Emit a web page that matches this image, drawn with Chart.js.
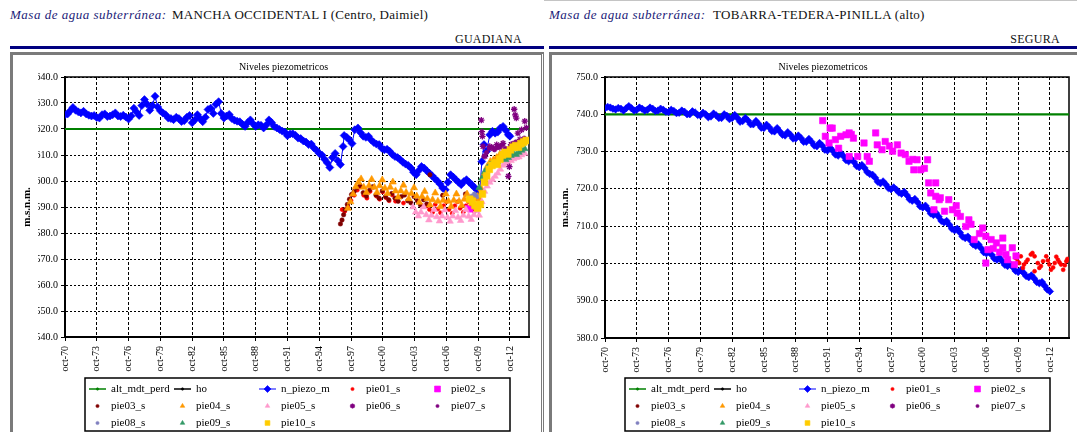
<!DOCTYPE html>
<html lang="es">
<head>
<meta charset="utf-8">
<title>Niveles piezometricos</title>
<script src="https://cdn.jsdelivr.net/npm/chart.js@4.4.1/dist/chart.umd.min.js"></script>
<style>
  html, body { margin: 0; padding: 0; background: #fff; }
  body { width: 1077px; height: 432px; overflow: hidden; position: relative;
         font-family: "Liberation Serif", "Times New Roman", serif; }
  .lbl  { position: absolute; top: 7px; font-style: italic; color: #1c1c78; font-size: 13px;
          letter-spacing: 0.5px; white-space: nowrap; }
  .name { position: absolute; top: 7px; font-size: 13px; letter-spacing: 0.3px; color: #111; white-space: nowrap; }
  .basin { position: absolute; top: 32px; width: 200px; text-align: right; font-size: 12px;
           letter-spacing: 0.3px; color: #111; white-space: nowrap; }
  .rule { position: absolute; top: 46px; height: 3px; background: #000080; }
  .panel { position: absolute; top: 52px; height: 400px; border-top: 3px solid #7a7a7a;
           border-left: 3px solid #7a7a7a; background: #fff; }
  .topline { position: absolute; top: 0; height: 1px; background: #c4c4c4; }
  canvas { position: absolute; top: 55px; }
</style>
</head>
<body>
  <div class="topline" style="left:544px; width:533px;"></div>

  <div class="lbl"  style="left:10px;">Masa de agua subterránea:</div>
  <div class="name" style="left:172px;">MANCHA OCCIDENTAL I (Centro, Daimiel)</div>
  <div class="basin" style="left:322px;">GUADIANA</div>
  <div class="rule" style="left:10px; width:534px;"></div>
  <div class="panel" style="left:10px; width:528px; border-right:3px double #7a7a7a;"></div>
  <canvas id="chartMancha" width="528" height="377" style="left:13px;"></canvas>

  <div class="lbl"  style="left:549px;">Masa de agua subterránea:</div>
  <div class="name" style="left:713px;">TOBARRA-TEDERA-PINILLA (alto)</div>
  <div class="basin" style="left:860px;">SEGURA</div>
  <div class="rule" style="left:549px; width:528px;"></div>
  <div class="panel" style="left:549px; width:600px;"></div>
  <canvas id="chartTobarra" width="525" height="377" style="left:552px;"></canvas>

<script>
// ---- x axis: October of every third year, as decimal years ----
const axisStart = 1970.75;
const axisEnd = 2014.55;
const tickYears = [1970.75, 1973.75, 1976.75, 1979.75, 1982.75, 1985.75, 1988.75, 1991.75,
                   1994.75, 1997.75, 2000.75, 2003.75, 2006.75, 2009.75, 2012.75];
const tickLabels = ['oct-70', 'oct-73', 'oct-76', 'oct-79', 'oct-82', 'oct-85', 'oct-88', 'oct-91',
                    'oct-94', 'oct-97', 'oct-00', 'oct-03', 'oct-06', 'oct-09', 'oct-12'];

const seriesNames = ['alt_mdt_perd', 'ho', 'n_piezo_m', 'pie01_s', 'pie02_s',
                     'pie03_s', 'pie04_s', 'pie05_s', 'pie06_s', 'pie07_s',
                     'pie08_s', 'pie09_s', 'pie10_s'];

// ---- MANCHA OCCIDENTAL I (Centro, Daimiel): [year, m.s.n.m.] ----
const altMancha = [[1970.75, 620.0], [2014.55, 620.0]];
const piezoMancha = [
  [1970.75,625.5],[1971.0,625.8],[1971.25,627.0],[1971.5,628.3],[1971.75,627.2],[1972.0,626.6],[1972.25,626.2],
  [1972.5,626.8],[1972.75,625.8],[1973.0,625.3],[1973.25,625.0],[1973.5,625.2],[1973.75,624.4],[1974.0,624.2],
  [1974.25,625.5],[1974.5,625.8],[1974.75,624.8],[1975.0,625.0],[1975.25,625.5],[1975.5,626.2],[1975.75,625.0],
  [1976.0,624.8],[1976.25,625.3],[1976.5,624.6],[1976.75,623.8],[1977.0,625.0],[1977.25,628.0],[1977.5,626.5],
  [1977.75,625.2],[1978.0,629.0],[1978.25,631.3],[1978.5,629.5],[1978.75,627.2],[1979.0,629.0],[1979.25,632.6],
  [1979.5,628.5],[1979.75,627.0],[1980.0,626.1],[1980.25,625.5],[1980.5,624.2],[1980.75,624.0],[1981.0,623.6],
  [1981.25,624.5],[1981.5,624.0],[1981.75,622.9],[1982.0,623.2],[1982.25,624.5],[1982.5,625.2],[1982.75,622.4],
  [1983.0,623.5],[1983.25,625.5],[1983.5,624.0],[1983.75,622.8],[1984.0,624.5],[1984.25,627.5],[1984.5,628.0],
  [1984.75,626.0],[1985.0,629.5],[1985.25,630.5],[1985.5,626.0],[1985.75,624.2],[1986.0,625.0],[1986.25,625.6],
  [1986.5,624.0],[1986.75,623.4],[1987.0,623.0],[1987.25,622.8],[1987.5,621.8],[1987.75,621.0],[1988.0,622.5],
  [1988.25,623.5],[1988.5,622.0],[1988.75,621.0],[1989.0,621.6],[1989.25,621.4],[1989.5,620.4],[1989.75,621.5],
  [1990.0,623.5],[1990.25,622.5],[1990.5,621.0],[1990.75,620.4],[1991.0,619.8],[1991.25,619.2],[1991.5,618.8],
  [1991.75,617.4],[1992.0,618.1],[1992.25,618.2],[1992.5,617.6],[1992.75,616.5],[1993.0,616.3],[1993.25,615.4],
  [1993.5,615.0],[1993.75,614.0],[1994.0,614.2],[1994.25,612.7],[1994.5,611.8],[1994.75,610.6],[1995.0,610.0],
  [1995.25,608.4],[1995.5,607.0],[1995.75,605.2],[1996.0,609.0],[1996.25,610.6],[1996.5,607.8],[1996.75,606.3],
  [1997.0,613.3],[1997.1,617.5],[1997.35,616.8],[1997.6,615.8],[1997.85,614.4],[1998.1,619.7],[1998.4,620.4],
  [1998.65,618.6],[1998.9,617.2],[1999.15,616.8],[1999.4,617.2],[1999.65,615.8],[1999.9,614.8],[2000.15,614.2],
  [2000.4,614.0],[2000.65,612.6],[2000.9,612.0],[2001.15,612.2],[2001.4,611.4],[2001.65,610.2],[2001.9,609.4],
  [2002.15,609.0],[2002.4,608.2],[2002.65,607.2],[2002.9,606.5],[2003.15,606.0],[2003.4,605.0],[2003.65,603.4],
  [2003.9,602.4],[2004.15,604.0],[2004.4,605.6],[2004.65,605.0],[2004.9,603.9],[2005.15,603.0],[2005.4,602.0],
  [2005.65,601.0],[2005.9,600.0],[2006.15,598.8],[2006.4,597.3],[2006.65,596.6],[2006.9,599.5],[2007.15,602.4],
  [2007.4,601.5],[2007.65,600.5],[2007.9,599.5],[2008.15,598.6],[2008.4,599.8],[2008.65,600.5],[2008.9,599.5],
  [2009.15,598.6],[2009.4,597.5],[2009.65,596.6],[2009.9,596.0],[2010.1,607.5],[2010.3,614.0],[2010.55,611.4],
  [2010.85,617.8],[2011.1,619.1],[2011.35,618.4],[2011.6,618.8],[2011.85,620.4],[2012.1,621.0],[2012.35,619.5],
  [2012.6,617.8],[2012.75,617.2]
];
const pie01Mancha = [
  [1996.9,589.0],[1997.15,588.3],[1997.45,590.2],[1997.75,592.5],[1998.05,594.5],[1998.35,596.5],[1998.65,597.8],
  [1998.95,594.5],[1999.25,593.4],[1999.55,596.0],[1999.85,597.6],[2000.15,594.2],[2000.45,593.0],[2000.75,595.8],
  [2001.05,593.6],[2001.35,592.4],[2001.65,594.6],[2001.95,592.2],[2002.7,591.5],[2004.9,590.5],[2005.15,589.0],
  [2005.45,588.0],[2005.7,591.0],[2005.95,589.2],[2006.2,587.8],[2006.5,590.5],[2006.75,592.0],[2007.0,589.0],
  [2007.3,587.6],[2007.55,590.5],[2007.8,592.0],[2008.05,589.5],[2008.35,588.0],[2008.6,590.5],[2008.85,592.0],
  [2009.1,589.5],[2009.4,588.3]
];
const pie02Mancha = [[2008.75,589.6],[2009.0,589.0],[2009.3,590.2]];
const pie03Mancha = [
  [1996.75,583.5],[1996.9,585.0],[1997.05,587.0],[1997.2,589.0],[1997.4,591.0],[1997.6,593.0],[1997.8,594.8],
  [1998.05,596.0],[1998.3,597.5],[1998.6,598.3],[1998.9,595.5],[1999.2,594.2],[1999.5,596.5],[1999.8,597.8],
  [2000.1,594.6],[2000.4,593.4],[2000.7,596.2],[2001.0,594.0],[2001.3,592.8],[2001.6,595.2],[2001.9,593.4],
  [2002.2,592.2],[2002.5,594.0],[2002.8,594.6],[2003.1,592.4],[2003.4,591.6],[2003.7,594.0],[2004.0,592.4],
  [2004.3,590.8],[2004.6,592.8],[2004.9,591.2],[2005.2,602.4],[2006.4,594.5],[2008.55,595.0]
];
const pie04Mancha = [
  [1997.45,589.5],[1997.7,592.0],[1997.95,595.0],[1998.2,597.8],[1998.45,599.5],[1998.7,600.8],[1998.95,597.6],
  [1999.2,595.6],[1999.45,598.2],[1999.7,600.6],[1999.95,597.6],[2000.2,595.6],[2000.45,598.2],[2000.7,600.4],
  [2000.95,597.2],[2001.2,595.2],[2001.45,597.6],[2001.7,599.6],[2001.95,596.2],[2002.2,593.8],[2002.45,596.2],
  [2002.7,598.4],[2002.95,595.6],[2003.2,593.2],[2003.45,595.2],[2003.7,597.4],[2003.95,594.2],[2004.2,591.8],
  [2004.45,594.0],[2004.7,596.0],[2004.95,593.2],[2005.2,590.8],[2005.45,592.8],[2005.7,595.4],[2005.95,592.2],
  [2006.2,590.2],[2006.45,592.6],[2006.7,595.0],[2006.95,592.2],[2007.2,590.2],[2007.45,592.6],[2007.7,595.0],
  [2007.95,592.2],[2008.2,590.6],[2008.45,593.0],[2008.7,595.0],[2008.95,592.6],[2009.2,591.2],[2009.45,593.0],
  [2009.7,594.0],[2009.9,593.0],[2010.05,597.0],[2010.3,602.5],[2010.6,605.5],[2010.9,607.5],[2011.2,608.2],
  [2011.5,609.0],[2011.8,610.2],[2012.1,611.0],[2012.4,611.8],[2012.7,612.0],[2013.0,612.8],[2013.3,613.6],
  [2013.6,613.8],[2013.9,614.6],[2014.2,615.2]
];
const pie05Mancha = [
  [2003.6,590.0],[2003.85,588.0],[2004.1,586.5],[2004.35,588.0],[2004.6,590.0],[2004.85,587.0],[2005.1,585.0],
  [2005.35,586.8],[2005.6,589.0],[2005.85,586.2],[2006.1,584.6],[2006.35,586.5],[2006.6,588.8],[2006.85,586.0],
  [2007.1,584.5],[2007.35,586.5],[2007.6,588.6],[2007.85,586.0],[2008.1,584.8],[2008.35,586.8],[2008.6,589.0],
  [2008.85,586.4],[2009.1,585.2],[2009.35,587.0],[2009.6,588.5],[2009.85,586.8],[2010.1,592.0],[2010.35,596.0],
  [2010.6,598.0],[2010.85,599.5],[2011.1,600.5],[2011.35,601.8],[2011.6,603.0],[2011.85,604.5],[2012.1,606.0],
  [2012.35,606.8],[2012.6,607.0],[2012.85,607.8],[2013.1,608.5],[2013.35,609.0],[2013.6,609.2],[2013.85,610.0],
  [2014.15,610.6]
];
const pie06Mancha = [
  [2010.05,623.4],[2010.1,619.0],[2010.15,617.2],[2010.2,613.3],[2010.4,609.5],[2010.85,613.3],[2011.2,612.5],
  [2011.5,614.0],[2011.8,613.0],[2012.1,614.5],[2012.6,601.8],[2012.7,605.5],[2012.85,614.0],[2013.15,627.6],
  [2013.25,625.4],[2013.35,624.2],[2013.5,618.4],[2013.7,616.0],[2013.85,619.7],[2014.15,623.0],[2014.3,620.5]
];
const pie07Mancha = [
  [2010.3,609.5],[2010.55,611.0],[2010.8,612.5],[2011.05,613.0],[2011.3,612.0],[2011.55,612.8],[2011.8,613.6],
  [2012.05,614.0],[2012.3,612.5],[2012.55,611.8],[2012.8,613.2],[2013.05,614.5],[2013.3,615.0],[2013.55,614.2],
  [2013.8,615.5],[2014.1,616.5]
];
const pie08Mancha = [[2008.9,593.5],[2009.15,594.2],[2009.4,595.0],[2009.65,594.0]];
const pie09Mancha = [
  [2009.85,597.5],[2010.1,601.0],[2010.35,603.5],[2010.6,605.0],[2010.85,606.2],[2011.1,607.0],[2011.35,606.5],
  [2011.6,607.4],[2011.85,608.2],[2012.1,608.6],[2012.35,608.2],[2012.6,609.0],[2012.85,609.8],[2013.1,610.5],
  [2013.35,610.2],[2013.6,611.0],[2013.85,611.8],[2014.15,612.4]
];
const pie10Mancha = [
  [2008.95,593.0],[2009.2,592.2],[2009.45,590.6],[2009.7,589.6],[2009.95,591.0],[2010.15,595.0],[2010.35,599.5],
  [2010.55,602.0],[2010.8,604.5],[2011.05,606.0],[2011.3,607.0],[2011.55,606.4],[2011.8,608.4],[2012.05,610.0],
  [2012.3,611.0],[2012.55,610.4],[2012.8,612.0],[2013.05,613.0],[2013.3,613.6],[2013.55,613.0],[2013.8,614.4],
  [2014.05,615.0],[2014.3,615.6]
];

// ---- TOBARRA-TEDERA-PINILLA (alto): [year, m.s.n.m.] ----
const altTobarra = [[1970.75, 740.0], [2014.55, 740.0]];
const piezoTobarra = [
  [1970.75,741.6],[1971.0,742.0],[1971.25,741.8],[1971.5,741.5],[1971.75,741.3],[1972.0,741.7],[1972.25,741.5],
  [1972.5,741.0],[1972.75,741.6],[1973.0,742.2],[1973.25,741.6],[1973.5,741.0],[1973.75,741.2],[1974.0,741.8],
  [1974.25,741.5],[1974.5,741.0],[1974.75,741.2],[1975.0,741.8],[1975.25,741.5],[1975.5,740.9],[1975.75,741.0],
  [1976.0,741.5],[1976.25,741.2],[1976.5,740.7],[1976.75,740.6],[1977.0,741.2],[1977.25,740.9],[1977.5,740.3],
  [1977.75,740.4],[1978.0,741.0],[1978.25,740.7],[1978.5,740.0],[1978.75,740.0],[1979.0,740.8],[1979.25,740.5],
  [1979.5,739.8],[1979.75,739.7],[1980.0,740.4],[1980.25,740.0],[1980.5,739.2],[1980.75,739.4],[1981.0,740.2],
  [1981.25,739.7],[1981.5,739.0],[1981.75,739.0],[1982.0,740.0],[1982.25,739.6],[1982.5,738.7],[1982.75,739.0],
  [1983.0,739.8],[1983.25,739.0],[1983.5,738.0],[1983.75,738.2],[1984.0,739.0],[1984.25,738.3],[1984.5,737.3],
  [1984.75,737.3],[1985.0,738.2],[1985.25,737.4],[1985.5,736.4],[1985.75,736.3],[1986.0,737.2],[1986.25,736.5],
  [1986.5,735.5],[1986.75,735.4],[1987.0,736.3],[1987.25,735.4],[1987.5,734.5],[1987.75,734.3],[1988.0,735.2],
  [1988.25,734.5],[1988.5,733.5],[1988.75,733.5],[1989.0,734.3],[1989.25,733.6],[1989.5,732.6],[1989.75,732.6],
  [1990.0,733.4],[1990.25,732.6],[1990.5,731.6],[1990.75,731.4],[1991.0,732.3],[1991.25,731.6],[1991.5,730.5],
  [1991.75,730.3],[1992.0,731.0],[1992.25,730.2],[1992.5,729.2],[1992.75,728.9],[1993.0,729.6],[1993.25,728.8],
  [1993.5,727.7],[1993.75,727.4],[1994.0,728.0],[1994.25,727.2],[1994.5,726.1],[1994.75,725.8],[1995.0,726.4],
  [1995.25,725.6],[1995.5,724.5],[1995.75,724.0],[1996.0,723.8],[1996.25,723.0],[1996.5,721.9],[1996.75,721.5],
  [1997.0,722.0],[1997.25,721.2],[1997.5,720.2],[1997.75,719.9],[1998.0,720.4],[1998.25,719.8],[1998.5,719.0],
  [1998.75,718.7],[1999.0,719.2],[1999.25,718.3],[1999.5,717.2],[1999.75,716.8],[2000.0,717.3],[2000.25,716.4],
  [2000.5,715.3],[2000.75,715.0],[2001.0,715.5],[2001.25,714.5],[2001.5,713.4],[2001.75,713.0],[2002.0,713.5],
  [2002.25,712.5],[2002.5,711.4],[2002.75,711.0],[2003.0,711.4],[2003.25,710.4],[2003.5,709.3],[2003.75,708.9],
  [2004.0,709.3],[2004.25,708.3],[2004.5,707.2],[2004.75,706.8],[2005.0,707.2],[2005.25,706.2],[2005.5,705.1],
  [2005.75,704.7],[2006.0,705.1],[2006.25,704.1],[2006.5,703.0],[2006.75,702.7],[2007.0,703.2],[2007.25,702.3],
  [2007.5,701.3],[2007.75,701.0],[2008.0,701.5],[2008.25,700.6],[2008.5,699.6],[2008.75,699.3],[2009.0,699.8],
  [2009.25,699.0],[2009.5,698.0],[2009.75,697.7],[2010.0,698.2],[2010.25,697.5],[2010.5,696.6],[2010.75,696.3],
  [2011.0,696.8],[2011.25,696.0],[2011.5,695.0],[2011.75,694.7],[2012.0,695.0],[2012.25,694.0],[2012.5,693.0],
  [2012.75,692.5]
];
const pie01Tobarra = [
  [2009.55,701.4],[2009.7,700.5],[2009.85,700.1],[2010.0,701.9],[2010.2,698.8],[2010.3,699.7],[2010.5,700.4],
  [2010.65,701.0],[2010.95,702.4],[2011.1,702.8],[2011.3,701.9],[2011.3,697.9],[2011.6,700.1],[2011.75,698.8],
  [2011.9,699.3],[2012.1,700.6],[2012.4,701.9],[2012.55,700.8],[2012.7,699.7],[2012.85,698.3],[2013.05,698.9],
  [2013.2,700.1],[2013.35,701.8],[2013.5,701.0],[2013.65,700.3],[2013.8,699.7],[2014.0,698.3],[2014.15,699.5],
  [2014.3,700.6],[2014.4,701.2]
];
const pie02Tobarra = [
  [1991.3,738.3],[1991.55,734.1],[1991.9,732.3],[1992.0,736.3],[1992.2,736.3],[1992.5,733.2],[1992.8,730.9],
  [1993.0,734.1],[1993.5,734.5],[1993.8,735.0],[1993.8,728.7],[1994.0,734.6],[1994.2,733.6],[1994.6,728.7],
  [1995.2,732.3],[1995.5,728.7],[1995.7,727.4],[1996.3,735.0],[1996.45,731.8],[1996.9,730.5],[1997.2,732.7],
  [1997.6,731.5],[1997.9,730.1],[1998.35,731.8],[1998.7,729.6],[1999.1,729.2],[1999.45,727.4],[1999.8,727.9],
  [1999.9,725.1],[2000.2,727.8],[2000.55,725.1],[2000.9,725.5],[2001.2,727.8],[2001.3,721.6],[2001.5,718.9],
  [2001.8,714.4],[2001.97,721.6],[2001.97,718.0],[2002.3,717.1],[2002.4,717.6],[2002.8,714.0],[2003.2,717.1],
  [2003.55,714.4],[2003.9,715.5],[2004.0,713.5],[2004.3,712.6],[2004.8,709.9],[2005.1,711.7],[2005.3,710.5],
  [2005.6,706.4],[2006.1,708.0],[2006.4,709.5],[2006.7,707.3],[2006.7,700.1],[2006.9,703.7],[2007.2,706.4],
  [2007.4,704.0],[2007.7,705.5],[2008.0,703.0],[2008.3,706.8],[2008.3,704.2],[2008.6,702.4],[2008.75,701.0],
  [2009.2,704.2],[2009.4,699.7],[2009.55,702.0]
];

// ---- look of each series (Excel-like markers) ----
const seriesStyle = {
  alt_mdt_perd: { color: '#008000', line: true, width: 2.2, point: 'circle', radius: 0, legendRadius: 1.2 },
  ho:           { color: '#000000', line: true, width: 1.5, point: 'circle', radius: 0, legendRadius: 1.2 },
  n_piezo_m:    { color: '#0000FF', line: true, width: 1, point: 'rectRot', radius: 4, legendRadius: 3.5 },
  pie01_s:      { color: '#FF0000', point: 'circle',   radius: 2,   legendRadius: 1.6 },
  pie02_s:      { color: '#FF00FF', point: 'rect',     radius: 4.5, legendRadius: 4.2 },
  pie03_s:      { color: '#800000', point: 'circle',   radius: 2.2, legendRadius: 1.6 },
  pie04_s:      { color: '#FF9900', point: 'triangle', radius: 4,   legendRadius: 2.6 },
  pie05_s:      { color: '#FF99CC', point: 'triangle', radius: 3.8, legendRadius: 2.6 },
  pie06_s:      { color: '#800080', point: 'star',     radius: 3.2, legendRadius: 2.6, border: 1.3 },
  pie07_s:      { color: '#800080', point: 'circle',   radius: 2.2, legendRadius: 1.6 },
  pie08_s:      { color: '#7F7FBF', point: 'circle',   radius: 2.2, legendRadius: 1.6 },
  pie09_s:      { color: '#339966', point: 'triangle', radius: 3.8, legendRadius: 2.6 },
  pie10_s:      { color: '#FFCC00', point: 'rect',     radius: 4.8, legendRadius: 3.4 }
};

const FONT = '"Liberation Serif", "Times New Roman", serif';
Chart.defaults.font.family = FONT;
Chart.defaults.color = '#000';

// solid frame on the top and right of the plot area
const plotFrame = {
  id: 'plotFrame',
  beforeDatasetsDraw(chart) {
    const { ctx, chartArea: a } = chart;
    ctx.save();
    ctx.strokeStyle = '#000';
    ctx.lineWidth = 1.5;
    ctx.beginPath();
    ctx.moveTo(a.left, a.top);
    ctx.lineTo(a.right, a.top);
    ctx.lineTo(a.right, a.bottom);
    ctx.stroke();
    ctx.restore();
  }
};

// boxed legend laid out in five columns, drawn from the datasets
const legendGrid = {
  id: 'legendGrid',
  afterDraw(chart, args, o) {
    const ctx = chart.ctx;
    ctx.save();
    ctx.strokeStyle = '#000';
    ctx.lineWidth = 1.5;
    ctx.strokeRect(o.x, o.y, o.w, o.h);
    ctx.font = '11px ' + FONT;
    ctx.textBaseline = 'middle';
    ctx.textAlign = 'left';
    chart.data.datasets.forEach((ds, i) => {
      const x0 = o.x + 4 + o.colWidth * (i % 5);
      const cy = o.y + o.rows[Math.floor(i / 5)];
      const mid = x0 + 8.5;
      if (ds.showLine) {
        ctx.strokeStyle = ds.borderColor;
        ctx.lineWidth = ds.legendLineWidth;
        ctx.beginPath();
        ctx.moveTo(x0, cy);
        ctx.lineTo(x0 + 17, cy);
        ctx.stroke();
      }
      ctx.fillStyle = ds.pointBackgroundColor;
      ctx.strokeStyle = ds.pointBorderColor;
      ctx.lineWidth = ds.pointBorderWidth;
      Chart.helpers.drawPoint(ctx, {
        pointStyle: ds.pointStyle, radius: ds.legendRadius, rotation: 0, borderWidth: ds.pointBorderWidth
      }, mid, cy);
      ctx.fillStyle = '#000';
      ctx.fillText(ds.label, x0 + 22, cy + 0.5);
    });
    ctx.restore();
  }
};

function buildChart(canvasId, series, g) {
  const datasets = seriesNames.map((name, i) => {
    const st = seriesStyle[name];
    const r = (g.radius && g.radius[name] !== undefined) ? g.radius[name] : st.radius;
    return {
      label: name,
      data: series[name] || [],
      showLine: !!st.line,
      borderColor: st.color,
      backgroundColor: st.color,
      borderWidth: st.width || 1,
      legendLineWidth: Math.min(st.width || 1, 1.5),
      pointStyle: st.point,
      pointRadius: r,
      pointHoverRadius: r,
      pointBackgroundColor: st.color,
      pointBorderColor: st.color,
      pointBorderWidth: st.border || 0.6,
      legendRadius: st.legendRadius,
      order: seriesNames.length - i
    };
  });

  return new Chart(document.getElementById(canvasId), {
    type: 'scatter',
    data: { datasets },
    options: {
      responsive: false,
      animation: false,
      events: [],
      layout: { padding: { left: 25, right: g.padRight, top: 0, bottom: g.padBottom } },
      plugins: {
        legend: { display: false },
        tooltip: { enabled: false },
        title: {
          display: true,
          text: 'Niveles piezometricos',
          color: '#000',
          font: { size: 10, weight: 'normal' },
          padding: { top: 6, bottom: 4 }
        },
        legendGrid: { x: g.legendX, y: 323, w: 425, h: 53, colWidth: 85, rows: [11, 28, 45] }
      },
      scales: {
        x: {
          type: 'linear',
          min: axisStart,
          max: axisEnd,
          afterBuildTicks: s => { s.ticks = tickYears.map(v => ({ value: v })); },
          afterFit: s => { s.height = 40; },
          ticks: {
            autoSkip: false, minRotation: 90, maxRotation: 90, padding: 5,
            font: { size: 10 }, color: '#000',
            callback: (v, i) => tickLabels[i]
          },
          grid: { color: '#000', lineWidth: 1, tickLength: 4, tickColor: '#000', tickWidth: 1 },
          border: { display: true, color: '#000', width: 2, dash: [3, 2] }
        },
        y: {
          min: g.yMin,
          max: g.yMax,
          afterFit: s => { s.width = g.yAxisWidth; },
          ticks: {
            stepSize: 10, padding: 3, font: { size: 10 }, color: '#000',
            callback: v => Number(v).toFixed(1)
          },
          grid: { color: '#000', lineWidth: 1, tickLength: 4, tickColor: '#000', tickWidth: 1 },
          border: { display: true, color: '#000', width: 2, dash: [2, 2] },
          title: {
            display: true, text: 'm.s.n.m.', color: '#000',
            font: { size: 11, weight: 'bold' },
            padding: { top: g.yTitlePad, bottom: 0 }
          }
        }
      }
    },
    plugins: [plotFrame, legendGrid]
  });
}

function drawAll() {
  buildChart('chartMancha', {
    alt_mdt_perd: altMancha, ho: [], n_piezo_m: piezoMancha,
    pie01_s: pie01Mancha, pie02_s: pie02Mancha, pie03_s: pie03Mancha, pie04_s: pie04Mancha,
    pie05_s: pie05Mancha, pie06_s: pie06Mancha, pie07_s: pie07Mancha, pie08_s: pie08Mancha,
    pie09_s: pie09Mancha, pie10_s: pie10Mancha
  }, {
    yMin: 540, yMax: 640, yAxisWidth: 27, yTitlePad: -17.6,
    padRight: 12, padBottom: 55, legendX: 72,
    radius: { pie02_s: 3.6 }
  });

  buildChart('chartTobarra', {
    alt_mdt_perd: altTobarra, ho: [], n_piezo_m: piezoTobarra,
    pie01_s: pie01Tobarra, pie02_s: pie02Tobarra
  }, {
    yMin: 680, yMax: 750, yAxisWidth: 28, yTitlePad: -18.6,
    padRight: 8, padBottom: 54, legendX: 73,
    radius: { n_piezo_m: 3.7 }
  });
}

// make sure the serif face is ready before the canvases draw text
if (document.fonts && document.fonts.load) {
  Promise.all([
    document.fonts.load('10px "Liberation Serif"'),
    document.fonts.load('bold 11px "Liberation Serif"')
  ]).then(drawAll, drawAll);
} else {
  drawAll();
}
</script>
</body>
</html>
